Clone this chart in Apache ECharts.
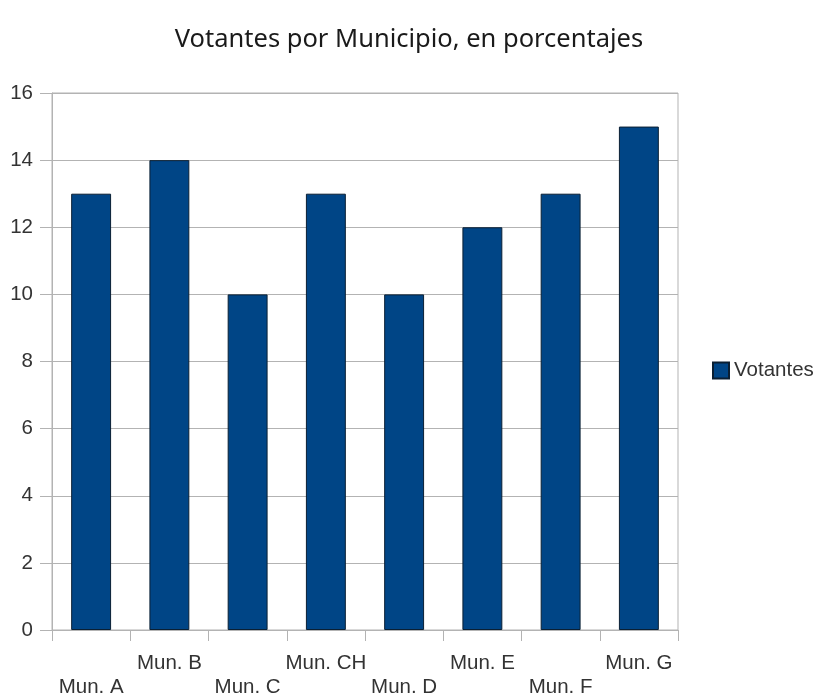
<!DOCTYPE html>
<html><head><meta charset="utf-8">
<script src="https://cdn.jsdelivr.net/npm/echarts@6/dist/echarts.min.js"></script>
<style>html,body{margin:0;padding:0;background:#fff}#c{width:818px;height:695px}</style>
</head><body><div id="c"></div>
<script>
const categories = ['Mun. A','Mun. B','Mun. C','Mun. CH','Mun. D','Mun. E','Mun. F','Mun. G'];
const votantes = [13, 14, 10, 13, 10, 12, 13, 15];
const seriesName = 'Votantes';
const titleText = 'Votantes por Municipio, en porcentajes';

const chart = echarts.init(document.getElementById('c'));
chart.setOption({
  animation: false,
  backgroundColor: '#fff',
  title: {
    text: titleText, left: 'center', top: 22,
    textStyle: {fontFamily: 'Noto Sans', fontWeight: 'normal', fontSize: 25.5, color: '#1a1a1a'}
  },
  legend: {
    data: [seriesName], orient: 'vertical', left: 707, top: 355,
    itemWidth: 16, itemHeight: 16, itemGap: 8,
    textStyle: {fontFamily: 'Liberation Sans', fontSize: 20.5, color: '#333'},
    icon: 'rect'
  },
  grid: {left: 52, top: 93, width: 626, height: 537, show: true, borderColor: '#b3b3b3', borderWidth: 1,
         containLabel: false, outerBoundsMode: 'none'},
  xAxis: {
    type: 'category', data: categories, boundaryGap: true,
    axisLine: {lineStyle: {color: '#b3b3b3'}},
    axisTick: {show: true, length: 11, lineStyle: {color: '#b3b3b3'}},
    axisLabel: {
      margin: 21, interval: 0, fontFamily: 'Liberation Sans', fontSize: 20.5, color: '#333', lineHeight: 24,
      formatter: (v, i) => i % 2 === 0 ? '\n' + v : v
    }
  },
  yAxis: {
    type: 'value', min: 0, max: 16, interval: 2,
    axisLine: {show: true, lineStyle: {color: '#b3b3b3'}},
    axisTick: {show: true, length: 12, lineStyle: {color: '#b3b3b3'}},
    splitLine: {lineStyle: {color: '#b3b3b3'}},
    axisLabel: {margin: 19, fontFamily: 'Liberation Sans', fontSize: 20.5, color: '#333'}
  },
  series: [{
    name: seriesName, type: 'bar', data: votantes, barWidth: '51%',
    itemStyle: {color: '#004586', borderColor: '#0a1f33', borderWidth: 1}
  }]
});
</script></body></html>
